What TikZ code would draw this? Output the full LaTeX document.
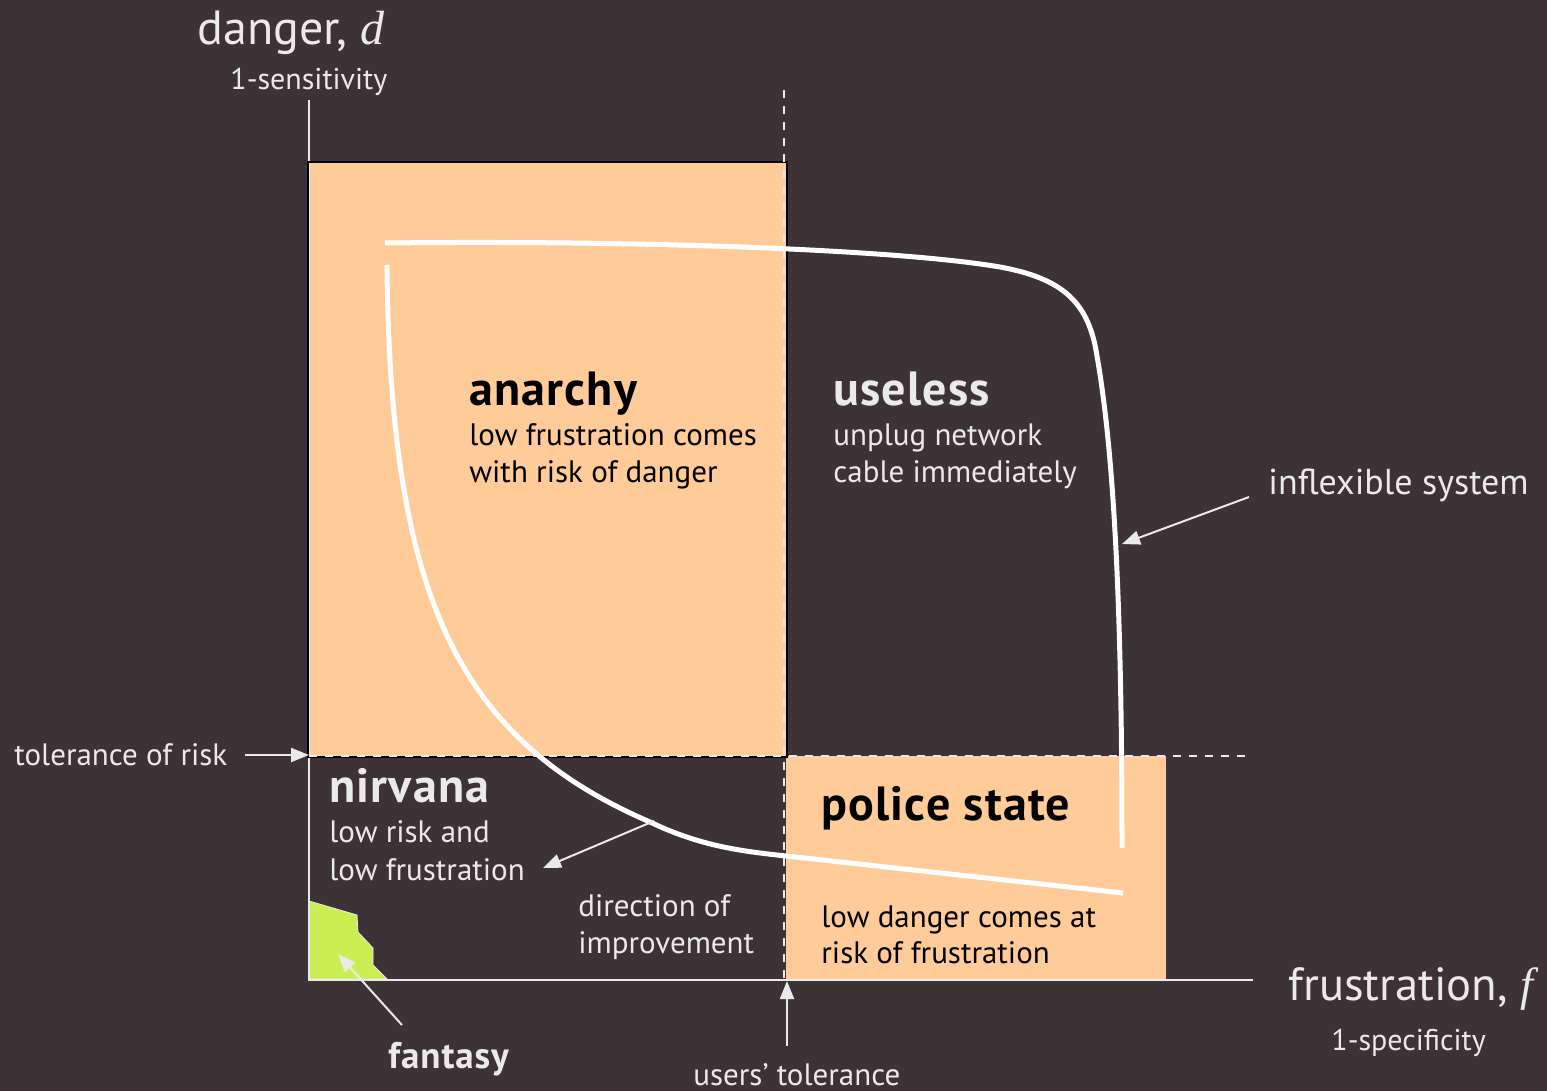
\documentclass[tikz,border=0pt]{standalone}
\usepackage{fontspec}
\setmainfont{PT Sans}
\newfontfamily\varfont{Liberation Serif}
\newfontfamily\headfont{PT Sans Bold}[LetterSpace=2.5]
\usetikzlibrary{arrows.meta}

\definecolor{bg}{RGB}{61,50,54}
\definecolor{peach}{RGB}{255,204,153}
\definecolor{lime}{RGB}{204,238,85}
\definecolor{ink}{RGB}{234,234,234}

\tikzset{
  txt/.style={anchor=base west, inner sep=0pt, text=ink, font=\fontsize{15.5}{18}\selectfont},
  darktxt/.style={txt, text=black},
  head/.style={anchor=base west, inner sep=0pt, text=ink, font=\headfont\fontsize{24}{28}\selectfont},
  darkhead/.style={head, text=black},
  axislabel/.style={anchor=base west, inner sep=0pt, text=ink, font=\fontsize{24}{28}\selectfont},
  sublabel/.style={txt, font=\fontsize{15}{18}\selectfont},
  axisline/.style={draw=ink, line width=1pt},
  limit/.style={draw=ink, line width=1pt, dash pattern=on 4pt off 4pt},
  curve/.style={draw=white, line width=2.5pt},
  pointer/.style={draw=ink, line width=1pt, -{Triangle[length=9pt,width=7pt]}}
}

\begin{document}
\begin{tikzpicture}[x=0.5pt, y=-0.5pt]
  % canvas
  \fill[bg] (0,0) rectangle (1547,1091);
  \useasboundingbox (0,0) rectangle (1547,1091);

  % regions
  \fill[peach] (309,756) rectangle (787,162);
  \fill[peach] (786,756) rectangle (1166,980);
  \fill[lime, draw=ink, line width=0.4pt]
    (309,901) -- (357,915) -- (358,932) -- (373,948) -- (373,965) -- (387,979) -- (309,979) -- cycle;

  % axes
  \draw[axisline] (309,100) -- (309,980) -- (1253,980);
  \draw[black, line width=1pt] (308,757) -- (308,162) -- (787,162) -- (787,757) -- cycle;

  % tolerance limits
  \draw[limit] (784,90) -- (784,980);
  \draw[limit] (309,756) -- (1248,756);

  % operating curves
  \draw[curve] (387,265) .. controls (390,600) and (460,740) .. (650,822)
               .. controls (700,846) and (740,851) .. (786,856) -- (1123,893);
  \draw[curve] (385,243) .. controls (650,240) and (900,250) .. (1000,267)
               .. controls (1060,278) and (1085,300) .. (1095,345)
               .. controls (1115,450) and (1122,620) .. (1122,848);

  % axis labels
  \node[axislabel] (dlab) at (197,45) {danger, {\varfont\itshape d}};
  \node[sublabel] (sens) at (230,90) {1-sensitivity};
  \node[axislabel, font=\fontsize{23.3}{28}\selectfont] (flab) at (1288,1000) {frustration, {\varfont\itshape f}};
  \node[sublabel] (spec) at (1331,1050) {1-specificity};

  % quadrant captions
  \node[darkhead] (anarchy) at (469,405) {anarchy};
  \node[darktxt] (an1) at (469,445) {low frustration comes};
  \node[darktxt] (an2) at (469,482) {with risk of danger};

  \node[head] (useless) at (833,405) {useless};
  \node[txt] (us1) at (833,445) {unplug network};
  \node[txt] (us2) at (833,482) {cable immediately};

  \node[head] (nirvana) at (329,802) {nirvana};
  \node[txt] (ni1) at (329,842) {low risk and};
  \node[txt] (ni2) at (329,880) {low frustration};

  \node[darkhead] (police) at (821,820) {police state};
  \node[darktxt] (po1) at (821,927) {low danger comes at};
  \node[darktxt] (po2) at (821,963) {risk of frustration};

  \node[txt] (dir1) at (578,916) {direction of};
  \node[txt] (dir2) at (578,953) {improvement};

  \node[head, font=\headfont\fontsize{18.5}{22}\selectfont] (fantasy) at (388,1068) {fantasy};
  \node[txt, font=\fontsize{18}{21}\selectfont] (inflex) at (1268,494) {inflexible system};
  \node[txt] (tolrisk) at (14,765) {tolerance of risk};
  \node[txt] (usertol) at (693,1085) {users’ tolerance};

  % pointer ends
  \coordinate (inflexStart) at (1249,497);
  \coordinate (inflexTip) at (1122,544);
  \coordinate (dirStart) at (654,821);
  \coordinate (dirTip) at (543,868);
  \coordinate (fanStart) at (402,1025);
  \coordinate (fanTip) at (338,954);
  \coordinate (riskStart) at (245,755);
  \coordinate (riskTip) at (309,755);
  \coordinate (userStart) at (787,1046);
  \coordinate (userTip) at (787,981);

  \draw[pointer] (inflexStart) -- (inflexTip);
  \draw[pointer] (dirStart) -- (dirTip);
  \draw[pointer] (fanStart) -- (fanTip);
  \draw[pointer] (riskStart) -- (riskTip);
  \draw[pointer] (userStart) -- (userTip);
\end{tikzpicture}
\end{document}
